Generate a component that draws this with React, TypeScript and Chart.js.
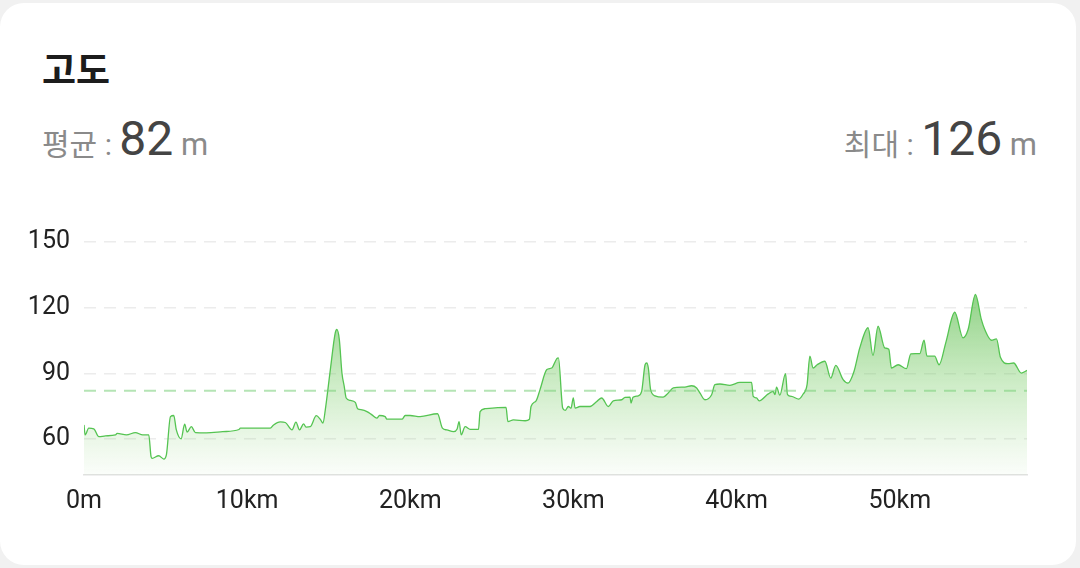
import React, { useEffect, useRef } from "react";
import { Chart, registerables } from "chart.js";

Chart.register(...registerables);

// distance along route (km)
const DIST_KM = [
  0.0, 0.07, 0.29, 0.6, 0.91, 1.32, 1.93, 2.03, 2.6, 3.15, 3.6, 3.97, 4.11, 4.18, 4.58, 4.89, 5.05,
  5.3, 5.5, 5.66, 5.95, 6.17, 6.32, 6.58, 6.83, 7.5, 8.5, 9.5, 9.58, 10.5, 11.42, 11.62, 12.03,
  12.34, 12.75, 12.99, 13.21, 13.46, 13.61, 13.87, 14.24, 14.48, 14.65, 14.79, 15.1, 15.4, 15.5,
  15.65, 15.81, 15.95, 16.07, 16.32, 16.63, 16.77, 17.04, 17.34, 17.65, 17.95, 18.11, 18.46, 18.56,
  19.49, 19.69, 19.99, 20.6, 21.67, 21.97, 22.24, 22.65, 22.87, 22.99, 23.12, 23.36, 23.67, 24.18,
  24.28, 24.59, 25.87, 25.98, 26.32, 27.04, 27.3, 27.4, 27.71, 27.95, 28.37, 28.67, 28.98, 29.08,
  29.34, 29.49, 29.69, 29.85, 29.99, 30.1, 30.4, 31.02, 31.43, 31.73, 32.14, 32.44, 32.96, 33.16,
  33.47, 33.53, 33.65, 33.97, 34.18, 34.39, 34.49, 34.59, 34.73, 35.0, 35.5, 35.81, 36.12, 36.83,
  37.24, 37.55, 37.75, 38.06, 38.47, 38.67, 38.98, 39.59, 40.2, 40.92, 41.02, 41.22, 41.38, 41.94,
  42.24, 42.35, 42.45, 42.65, 43.0, 43.12, 43.37, 43.81, 44.08, 44.32, 44.49, 44.69, 44.94, 45.41,
  45.77, 46.08, 46.53, 46.83, 47.2, 47.55, 48.06, 48.36, 48.67, 49.08, 49.33, 49.49, 49.9, 50.41,
  50.68, 51.23, 51.49, 51.67, 52.14, 52.41, 52.82, 53.37, 53.88, 54.19, 54.64, 55.0, 55.21, 55.62,
  55.93, 56.17, 56.63, 56.98, 57.45, 57.8,
];

// elevation (m)
const ELEV_M = [
  66.4, 61.8, 64.9, 64.6, 61.0, 61.4, 61.8, 62.5, 61.8, 62.9, 61.8, 61.8, 51.9, 51.1, 52.3, 50.8, 52.7,
  70.2, 70.7, 64.1, 60.0, 66.7, 63.1, 65.6, 62.9, 62.8, 63.3, 64.3, 64.9, 64.9, 64.9, 66.4, 67.8,
  67.5, 64.1, 67.7, 64.1, 66.9, 65.4, 65.6, 70.6, 69.0, 67.2, 73.3, 91.7, 108.5, 110.0,
  105.4, 90.1, 84.0, 78.7, 77.6, 76.7, 73.8, 73.3, 72.5, 71.0, 69.5, 70.7, 70.2, 69.0,
  69.0, 70.7, 70.7, 70.2, 71.5, 64.9, 64.1, 63.3, 64.5, 67.9, 61.8, 65.6, 64.4, 64.4,
  72.5, 73.8, 74.4, 67.9, 68.7, 68.3, 69.0, 74.8, 77.4, 82.5, 91.7, 92.4, 96.7, 97.0,
  74.1, 73.0, 74.8, 74.0, 78.7, 74.1, 74.8, 74.8, 77.1, 78.7, 74.8, 77.4, 77.9, 79.0,
  79.1, 76.4, 79.0, 79.7, 81.7, 93.9, 94.7, 92.4, 82.5, 79.7, 79.1, 81.0, 83.3, 83.7,
  84.3, 83.3, 81.0, 77.9, 80.2, 84.8, 85.1, 84.5, 85.8, 85.8, 79.4, 78.7, 77.4, 80.6,
  81.7, 80.2, 83.7, 80.0, 89.8, 80.2, 79.4, 78.2, 80.5, 84.8, 97.8, 92.4, 93.9, 95.5,
  87.8, 93.6, 87.1, 85.5, 90.9, 101.6, 110.8, 98.1, 111.5, 101.6, 101.0, 92.4, 93.9, 92.1,
  98.9, 99.0, 105.1, 97.8, 97.8, 93.9, 103.9, 117.9, 106.2, 110.0, 126.0, 114.6, 110.0, 105.1,
  105.7, 97.3, 94.4, 94.7, 90.1, 91.3,
];

const X_TICKS = [0, 10, 20, 30, 40, 50];
const X_TICK_LABELS = ["0m", "10km", "20km", "30km", "40km", "50km"];
const Y_TICKS = [60, 90, 120, 150];
const X_MAX = 57.8;
const Y_MIN = 43.5;
const Y_MAX = 150;
const AVG_M = 82;
const MAX_M = 126;
const TITLE = "고도";
const AVG_LABEL = "평균";
const MAX_LABEL = "최대";

const FONT = "Roboto, 'Noto Sans CJK KR', sans-serif";

export default function App() {
  const canvasRef = useRef<HTMLCanvasElement | null>(null);

  useEffect(() => {
    document.body.style.margin = "0";
    document.body.style.background = "#f1f1f1";
    const canvas = canvasRef.current;
    if (!canvas) return;
    const points = DIST_KM.map((d, i) => ({ x: d, y: ELEV_M[i] }));
    const meanLine = [
      { x: 0, y: AVG_M },
      { x: X_MAX, y: AVG_M },
    ];
    const chart = new Chart(canvas, {
      type: "line",
      data: {
        datasets: [
          {
            data: meanLine,
            borderColor: "rgba(120, 205, 120, 0.55)",
            borderWidth: 2,
            borderDash: [12, 8],
            pointRadius: 0,
            fill: false,
            order: 1,
          },
          {
            data: points,
            borderColor: "#55c452",
            borderWidth: 1.3,
            pointRadius: 0,
            cubicInterpolationMode: "monotone",
            fill: "start",
            order: 2,
            backgroundColor: (context: any) => {
              const { chart } = context;
              const { ctx, chartArea } = chart;
              if (!chartArea) return "rgba(85,196,82,0.3)";
              const g = ctx.createLinearGradient(0, chartArea.top + 50, 0, chartArea.bottom);
              g.addColorStop(0, "rgba(85, 185, 70, 0.66)");
              g.addColorStop(0.5, "rgba(110, 200, 90, 0.34)");
              g.addColorStop(1, "rgba(140, 210, 120, 0.04)");
              return g;
            },
          },
        ],
      },
      options: {
        animation: false,
        responsive: false,
        maintainAspectRatio: false,
        layout: { padding: { top: 0, right: 53, bottom: 0, left: 0 } },
        plugins: { legend: { display: false }, tooltip: { enabled: false } },
        scales: {
          x: {
            type: "linear",
            min: 0,
            max: X_MAX,
            afterBuildTicks: (scale: any) => {
              scale.ticks = X_TICKS.map((v) => ({ value: v }));
            },
            afterFit: (scale: any) => {
              scale.height = 60;
            },
            ticks: {
              autoSkip: false,
              maxRotation: 0,
              padding: 12,
              color: "#222",
              font: { family: FONT, size: 25 },
              callback: (v: any) => {
                const i = X_TICKS.indexOf(Number(v));
                return i >= 0 ? X_TICK_LABELS[i] : "";
              },
            },
            grid: { display: false, drawTicks: false },
            border: { display: true, color: "#e2e2e2", width: 1.5 },
          },
          y: {
            min: Y_MIN,
            max: Y_MAX,
            afterBuildTicks: (scale: any) => {
              scale.ticks = Y_TICKS.map((v) => ({ value: v }));
            },
            afterFit: (scale: any) => {
              scale.width = 84;
            },
            ticks: {
              padding: 14,
              color: "#222",
              font: { family: FONT, size: 25 },
            },
            grid: { color: "#ececec", lineWidth: 1.5, drawTicks: false },
            border: { display: false, dash: [12, 8] },
          },
        },
      },
    });
    return () => chart.destroy();
  }, []);

  return (
    <div
      style={{
        position: "absolute",
        left: 0,
        top: 3,
        width: 1076,
        height: 562,
        background: "#ffffff",
        borderRadius: 24,
        fontFamily: FONT,
        overflow: "hidden",
      }}
    >
      <div
        style={{
          position: "absolute",
          left: 42,
          top: 43,
          fontSize: 37,
          fontWeight: 700,
          color: "#1c1c1c",
          lineHeight: "44px",
          fontFamily: "'Noto Sans CJK KR', sans-serif",
        }}
      >
        {TITLE}
      </div>
      <div
        style={{
          position: "absolute",
          left: 42,
          top: 107,
          height: 60,
          display: "flex",
          alignItems: "baseline",
          whiteSpace: "pre",
        }}
      >
        <span style={{ fontSize: 30, color: "#8a8a8a" }}>{AVG_LABEL} : </span>
        <span style={{ fontSize: 48, color: "#444" }}>{AVG_M}</span>
        <span style={{ fontSize: 31, color: "#8a8a8a" }}> m</span>
      </div>
      <div
        style={{
          position: "absolute",
          right: 1076 - 1037,
          top: 107,
          height: 60,
          display: "flex",
          alignItems: "baseline",
          whiteSpace: "pre",
        }}
      >
        <span style={{ fontSize: 30, color: "#8a8a8a" }}>{MAX_LABEL} : </span>
        <span style={{ fontSize: 48, color: "#444" }}>{MAX_M}</span>
        <span style={{ fontSize: 31, color: "#8a8a8a" }}> m</span>
      </div>
      <canvas
        ref={canvasRef}
        width={1080}
        height={322}
        style={{ position: "absolute", left: 0, top: 210, width: 1080, height: 322 }}
      />
    </div>
  );
}
